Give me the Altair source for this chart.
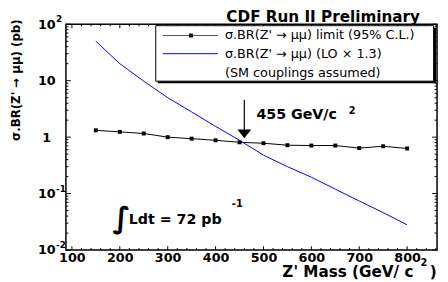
import altair as alt
import pandas as pd

# ---- data ----
mass = [150, 200, 250, 300, 350, 400, 450, 500, 550, 600, 650, 700, 750, 800]
limit = [1.32, 1.24, 1.16, 1.00, 0.94, 0.88, 0.81, 0.78, 0.72, 0.71, 0.71, 0.64, 0.69, 0.63]
theory = [50, 20, 9.8, 5.0, 2.8, 1.55, 0.88, 0.48, 0.30, 0.195, 0.12, 0.074, 0.046, 0.028]

x_major = [100, 200, 300, 400, 500, 600, 700, 800]
x_minor = [v for v in range(100, 861, 20) if v % 100 != 0]
y_major = [0.01, 0.1, 1, 10, 100]
y_minor = [m * 10.0 ** e for e in range(-2, 2) for m in range(2, 10)]
y_exp_vals = [0.01, 0.1, 100]
y_exp_text = ["-2", "-1", "2"]

arrow_mass = [460]
arrow_top = [4.6]
arrow_head = [1.14]

W, H = 378, 230
FONT = "DejaVu Sans"
xs = alt.Scale(domain=[87.5, 862.5], nice=False, zero=False)
ys = alt.Scale(type="log", domain=[0.01, 100], nice=False)

df = pd.DataFrame({"mass": mass, "limit": limit, "theory": theory})

xaxis = alt.Axis(values=x_major, format="d", labelFont=FONT, labelFontWeight="bold",
                 labelFontSize=13, labelColor="black", tickSize=0, domain=False,
                 grid=False, title=None, labelPadding=1.5)
yaxis = alt.Axis(values=y_major, labelExpr="datum.value == 1 ? '1' : '10'",
                 labelFont=FONT, labelFontWeight="bold", labelFontSize=13,
                 labelColor="black", tickSize=0, domain=False, grid=False,
                 title=None, labelAlign="center", labelPadding=20)


def X(field):
    return alt.X(field, type="quantitative", scale=xs, axis=xaxis)


def Y(field):
    return alt.Y(field, type="quantitative", scale=ys, axis=yaxis)


lim_line = alt.Chart(df).mark_line(color="black", strokeWidth=1).encode(
    x=X("mass"), y=Y("limit"))
lim_pts = alt.Chart(df).mark_point(shape="square", filled=True, size=16,
                                   color="black", opacity=1).encode(
    x=X("mass"), y=Y("limit"))
th_line = alt.Chart(df).mark_line(color="#0000ff", strokeWidth=1).encode(
    x=X("mass"), y=Y("theory"))


def xticks(vals, length, top):
    d = pd.DataFrame({"v": vals})
    return alt.Chart(d).mark_tick(color="black", thickness=1, size=length,
                                  orient="vertical", opacity=1).encode(
        x=X("v"), y=alt.value(length / 2 if top else H - length / 2))


def yticks(vals, length, right):
    d = pd.DataFrame({"v": vals})
    return alt.Chart(d).mark_tick(color="black", thickness=1, size=length,
                                  orient="horizontal", opacity=1).encode(
        y=Y("v"), x=alt.value(W - length / 2 if right else length / 2))


def txt(text, x, y, size, weight="normal", align="left", baseline="alphabetic",
        angle=0, color="black"):
    return alt.Chart(pd.DataFrame({"t": [text]})).mark_text(
        align=align, baseline=baseline, fontSize=size, fontWeight=weight,
        font=FONT, angle=angle, color=color).encode(
        text="t:N", x=alt.value(x), y=alt.value(y))


def box(x, x2, y, y2, **kw):
    return alt.Chart(pd.DataFrame({"a": [0]})).mark_rect(**kw).encode(
        x=alt.value(x), x2=alt.value(x2), y=alt.value(y), y2=alt.value(y2))


def hline(x, x2, y, color, width=1):
    return alt.Chart(pd.DataFrame({"a": [0]})).mark_rule(
        color=color, strokeWidth=width).encode(
        x=alt.value(x), x2=alt.value(x2), y=alt.value(y))


ticks = [
    xticks(x_major, 4, False), xticks(x_minor, 2, False),
    xticks(x_major, 4, True), xticks(x_minor, 2, True),
    yticks(y_major, 5, False), yticks(y_minor, 2.5, False),
    yticks(y_major, 5, True), yticks(y_minor, 2.5, True),
]

exp_df = pd.DataFrame({"v": y_exp_vals, "e": y_exp_text})
y_exps = alt.Chart(exp_df).mark_text(align="left", baseline="middle", fontSize=9,
                                     fontWeight="bold", font=FONT, dy=-5,
                                     color="black").encode(
    y=Y("v"), x=alt.value(-10), text="e:N")

arr_df = pd.DataFrame({"m": arrow_mass, "top": arrow_top, "head": arrow_head})
arrow_line = alt.Chart(arr_df).mark_rule(color="black", strokeWidth=1.2).encode(
    x=X("m"), y=Y("top"), y2="head:Q")
arrow_tip = alt.Chart(arr_df).mark_point(
    shape="M-1,-0.64L1,-0.64L0,0.64Z", size=196, filled=True, color="black",
    opacity=1).encode(x=X("m"), y=Y("head"))

legend = [
    box(93.5, 377, 3.5, 60, color="black"),
    box(91.5, 374.5, 1.5, 58, fill="white", stroke="black", strokeWidth=1),
    hline(98.7, 154.7, 11.5, "#555555"),
    alt.Chart(pd.DataFrame({"a": [0]})).mark_point(
        shape="square", filled=True, size=16, color="black", opacity=1).encode(
        x=alt.value(127.3), y=alt.value(11.5)),
    hline(98.7, 154.7, 30, "#0000ff"),
    txt("σ.BR(Z'  → μμ) limit (95% C.L.)", 162, 11.5, 13, baseline="middle"),
    txt("σ.BR(Z'  → μμ) (LO × 1.3)", 162, 30.5, 13, baseline="middle"),
    txt("(SM couplings assumed)", 162, 50, 13, baseline="middle"),
]

texts = [
    txt("CDF Run II Preliminary", 262, -2.5, 15.5, weight="bold", align="center"),
    txt("455 GeV/c", 194, 96.3, 14.5, weight="bold"),
    txt("2", 288, 88, 10, weight="bold", baseline="middle"),
    txt("∫", 56.5, 208, 30, weight="bold", align="center"),
    txt("Ldt = 72 pb", 64, 203.7, 14.5, weight="bold"),
    txt("-1", 169, 183, 10, weight="bold", baseline="middle"),
    txt("Z' Mass (GeV/ c", 354, 257.5, 15.5, weight="bold", align="right"),
    txt("2", 364.5, 243, 10, weight="bold", align="center", baseline="middle"),
    txt(")", 370.5, 257.5, 15.5, weight="bold"),
    txt("σ.BR(Z'  → μμ) (pb)", -51, -5, 12, weight="bold", align="right",
        baseline="middle", angle=270),
]

chart = alt.layer(lim_line, th_line, lim_pts, *ticks, y_exps, arrow_line, arrow_tip,
                  *legend, *texts).properties(
    width=W, height=H, background="white",
    autosize=alt.AutoSizeParams(type="none"),
    padding={"left": 59, "top": 14, "right": 3, "bottom": 30},
).configure_view(stroke="black", strokeWidth=1.5)

chart.save("out.html", embed_options={"renderer": "svg", "actions": False})
